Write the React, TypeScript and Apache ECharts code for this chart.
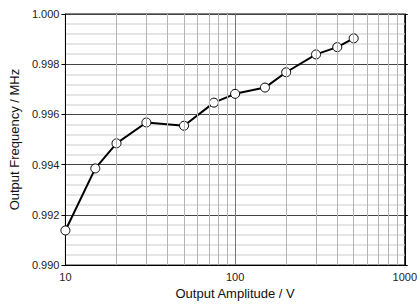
import React, { useEffect, useRef } from "react";
import * as echarts from "echarts";

const amplitudes = [10, 15, 20, 30, 50, 75, 100, 150, 200, 300, 400, 500];
const frequencies = [0.99138, 0.99385, 0.99485, 0.99568, 0.99555, 0.99647, 0.99682, 0.99707, 0.99768, 0.99839, 0.99868, 0.99903];
const minorXLines = [20, 30, 40, 50, 60, 70, 80, 90, 200, 300, 400, 500, 600, 700, 800, 900];

export default function App() {
  const ref = useRef<HTMLDivElement>(null);
  useEffect(() => {
    if (!ref.current) return;
    const chart = echarts.init(ref.current, null, { renderer: "svg" });
    const font = "Liberation Sans";
    chart.setOption({
      animation: false,
      backgroundColor: "#fff",
      grid: { left: 60, right: 13, top: 14, bottom: 32, show: true, borderColor: "#000", borderWidth: 1, backgroundColor: "#fff" },
      xAxis: {
        type: "log",
        logBase: 10,
        min: 10,
        max: 1000,
        name: "Output Amplitude / V",
        nameLocation: "middle",
        nameGap: 17,
        nameTextStyle: { fontFamily: font, fontSize: 13, color: "#111" },
        axisLine: { show: true, lineStyle: { color: "#000", width: 1 } },
        axisTick: { show: false },
        axisLabel: { fontFamily: font, fontSize: 11, color: "#222", margin: 6, formatter: (v: number) => String(Math.round(v)) },
        splitLine: { show: true, lineStyle: { color: "#777", width: 1 } },
      },
      yAxis: [
        {
          type: "value",
          min: 0.99,
          max: 1.0,
          interval: 0.002,
          name: "Output Frequency / MHz",
          nameLocation: "middle",
          nameGap: 38,
          nameTextStyle: { fontFamily: font, fontSize: 13, color: "#111" },
          axisLine: { show: true, lineStyle: { color: "#000", width: 1 } },
          axisTick: { show: true, inside: false, length: 4, lineStyle: { color: "#000" } },
          axisLabel: { fontFamily: font, fontSize: 11, color: "#222", margin: 6, formatter: (v: number) => v.toFixed(3) },
          splitLine: { show: true, lineStyle: { color: "#444", width: 1 } },
          minorTick: { show: false, splitNumber: 5 },
          minorSplitLine: { show: true, lineStyle: { color: "#dcdcdc", width: 1.5 } },
        },
        {
          type: "value",
          position: "right",
          min: 0.99,
          max: 1.0,
          interval: 0.002,
          axisLine: { show: true, lineStyle: { color: "#000", width: 1 } },
          axisTick: { show: true, inside: false, length: 3, lineStyle: { color: "#000" } },
          axisLabel: { show: false },
          splitLine: { show: false },
        },
      ],
      series: [
        {
          type: "line",
          data: [],
          z: 1,
          silent: true,
          markLine: {
            silent: true,
            symbol: "none",
            label: { show: false },
            lineStyle: { color: "#b4b4b4", width: 1, type: "solid" },
            data: minorXLines.map((x) => ({ xAxis: x })),
          },
        },
        {
          type: "line",
          z: 3,
          data: amplitudes.map((a, i) => [a, frequencies[i]]),
          symbol: "circle",
          symbolSize: 9,
          itemStyle: { color: "#fff", borderColor: "#000", borderWidth: 1 },
          lineStyle: { color: "#000", width: 2 },
        },
      ],
    });
    return () => chart.dispose();
  }, []);
  return <div ref={ref} style={{ width: 420, height: 305, position: "absolute", left: 0, top: 0 }} />;
}
